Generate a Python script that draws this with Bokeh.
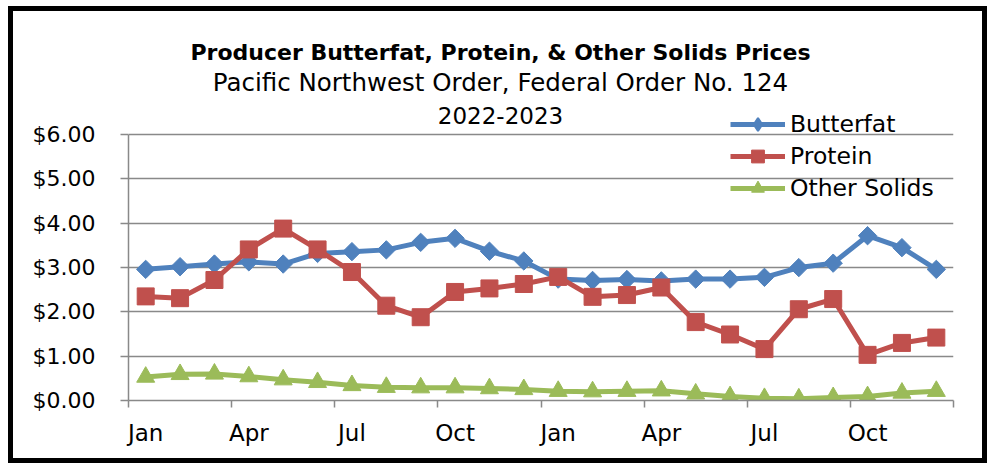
import math
from bokeh.plotting import figure
from bokeh.models import (Range1d, FixedTicker, NumeralTickFormatter, Legend,
                          LegendItem, Label, ColumnDataSource)
from bokeh.embed import file_html
from bokeh.resources import INLINE

# ---- data ----
months = ["Jan", "Feb", "Mar", "Apr", "May", "Jun",
          "Jul", "Aug", "Sep", "Oct", "Nov", "Dec"] * 2
years = [2022] * 12 + [2023] * 12
butterfat = [2.96, 3.02, 3.08, 3.13, 3.08, 3.32, 3.36, 3.40, 3.57, 3.66, 3.37, 3.15,
             2.74, 2.71, 2.73, 2.70, 2.74, 2.74, 2.78, 3.00, 3.10, 3.72, 3.45, 2.96]
protein = [2.35, 2.31, 2.72, 3.41, 3.88, 3.41, 2.90, 2.14, 1.88, 2.45, 2.53, 2.63,
           2.79, 2.34, 2.38, 2.55, 1.77, 1.49, 1.16, 2.06, 2.29, 1.03, 1.30, 1.42]
other_solids = [0.53, 0.59, 0.60, 0.54, 0.47, 0.41, 0.34, 0.30, 0.29, 0.29, 0.27, 0.25,
                0.21, 0.20, 0.21, 0.22, 0.15, 0.09, 0.05, 0.04, 0.07, 0.09, 0.17, 0.21]
y_ticks = [0, 1, 2, 3, 4, 5, 6]
label_every = 3

title_main = "Producer Butterfat, Protein, & Other Solids Prices"
title_sub = "Pacific Northwest Order, Federal Order No. 124"
title_years = "2022-2023"

BLUE = "#4F81BD"
RED = "#C0504D"
GREEN = "#9BBB59"
GRAY = "#898989"
FONT = "DejaVu Sans"

x = list(range(len(months)))
src = ColumnDataSource(dict(x=x, month=months, year=years, butterfat=butterfat,
                            protein=protein, other=other_solids))

# frame extends above the $6.00 line so that titles and legend fit inside it
p = figure(width=979, height=457, output_backend="svg", toolbar_location=None,
           title=None,
           x_range=Range1d(-0.5, len(months) - 0.5), y_range=Range1d(0, 8.6),
           min_border_left=115, min_border_right=39, min_border_top=8,
           min_border_bottom=68)
p.styles = {"border": "5px solid black", "margin-left": "8px", "margin-top": "6px"}
p.outline_line_color = None
p.background_fill_color = "white"
p.border_fill_color = "white"

# series
bl = p.line("x", "butterfat", source=src, line_color=BLUE, line_width=5)
# narrow diamond (used for the legend swatch), covered by the rotated square
bd = p.scatter("x", "butterfat", source=src, marker="diamond", size=14,
               fill_color=BLUE, line_color=BLUE, line_width=2)
bm = p.scatter("x", "butterfat", source=src, marker="square", angle=math.pi / 4,
               size=13, fill_color=BLUE, line_color=BLUE)
pl = p.line("x", "protein", source=src, line_color=RED, line_width=5)
pm = p.scatter("x", "protein", source=src, marker="square", size=17,
               fill_color=RED, line_color=RED)
ol = p.line("x", "other", source=src, line_color=GREEN, line_width=5)
om = p.scatter("x", "other", source=src, marker="triangle", size=18,
               fill_color=GREEN, line_color=GREEN)

# x axis
major = [i for i in x if i % label_every == 0]
minor = [i - 0.5 for i in range(0, len(months) + 1, label_every)]
p.xaxis.ticker = FixedTicker(ticks=major, minor_ticks=minor)
p.xaxis.major_label_overrides = {i: months[i] for i in major}
p.xaxis.major_tick_line_color = None
p.xaxis.major_tick_out = 7
p.xaxis.major_tick_in = 0
p.xaxis.minor_tick_out = 7
p.xaxis.minor_tick_in = 0
p.xaxis.minor_tick_line_color = GRAY
p.xaxis.minor_tick_line_width = 1.5
p.xaxis.axis_line_color = GRAY
p.xaxis.axis_line_width = 1.5
p.xaxis.major_label_text_font = FONT
p.xaxis.major_label_text_font_size = "23px"
p.xaxis.major_label_text_color = "black"
p.xaxis.major_label_standoff = 12
p.xgrid.visible = False

# y axis
p.yaxis.ticker = FixedTicker(ticks=y_ticks, minor_ticks=[])
p.yaxis.bounds = (y_ticks[0], y_ticks[-1])
p.yaxis.formatter = NumeralTickFormatter(format="$0.00")
p.yaxis.major_tick_out = 8
p.yaxis.major_tick_in = 0
p.yaxis.major_tick_line_color = GRAY
p.yaxis.major_tick_line_width = 1.5
p.yaxis.minor_tick_line_color = None
p.yaxis.axis_line_color = GRAY
p.yaxis.axis_line_width = 1.5
p.yaxis.major_label_text_font = FONT
p.yaxis.major_label_text_font_size = "22px"
p.yaxis.major_label_text_color = "black"
p.yaxis.major_label_standoff = 25
p.ygrid.ticker = FixedTicker(ticks=y_ticks)
p.ygrid.grid_line_color = GRAY
p.ygrid.grid_line_width = 1.5

# titles (screen units, relative to the plot frame)
for txt, ypos, size, style in [(title_main, 348, "22px", "bold"),
                               (title_sub, 318, "24.5px", "normal"),
                               (title_years, 285, "23px", "normal")]:
    p.add_layout(Label(x=372, y=ypos, x_units="screen", y_units="screen",
                       text=txt, text_align="center", text_baseline="middle",
                       text_font=FONT, text_font_size=size,
                       text_font_style=style, text_color="black"))

legend = Legend(items=[LegendItem(label="Butterfat", renderers=[bl, bd]),
                       LegendItem(label="Protein", renderers=[pl, pm]),
                       LegendItem(label="Other Solids", renderers=[ol, om])],
                location=(602, 196), orientation="vertical",
                glyph_width=55, glyph_height=32, label_height=32, spacing=-3,
                padding=0, margin=0, label_standoff=5,
                border_line_color=None, background_fill_alpha=0,
                label_text_font=FONT, label_text_font_size="23.5px",
                label_text_color="black")
p.add_layout(legend, "center")

open("out.html", "w").write(file_html(p, INLINE))
